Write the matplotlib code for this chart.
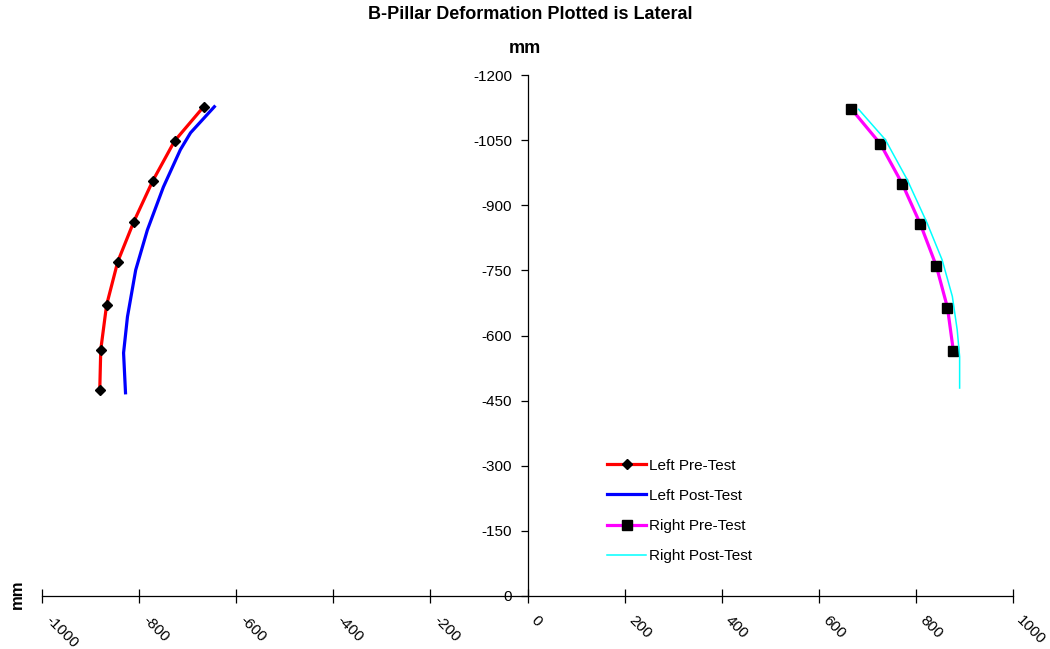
import matplotlib
matplotlib.use('Agg')
import matplotlib.pyplot as plt
import matplotlib.transforms as mtransforms

plt.rcParams['font.family'] = ['Liberation Sans', 'DejaVu Sans']
plt.rcParams['font.size'] = 11

# lateral position (mm) vs height (mm) along the B-pillar
left_pre_x = [-667, -727, -772, -811, -844, -867, -879, -881]
left_pre_y = [-1127, -1048, -956, -862, -770, -670, -567, -475]

left_post_x = [-645, -694, -715, -750, -783, -807, -824, -832, -828]
left_post_y = [-1127, -1067, -1028, -942, -843, -751, -643, -560, -468]

right_pre_x = [667, 727, 772, 809, 842, 865, 877]
right_pre_y = [-1122, -1041, -949, -857, -760, -664, -565]

right_post_x = [682, 737, 782, 823, 854, 875, 885, 890, 890]
right_post_y = [-1121, -1051, -959, -859, -774, -690, -613, -551, -479]

x_ticks = [-1000, -800, -600, -400, -200, 0, 200, 400, 600, 800, 1000]
y_ticks = [0, -150, -300, -450, -600, -750, -900, -1050, -1200]

fig = plt.figure(figsize=(10.5, 6.49), dpi=100)
ax = fig.add_axes([0.04, 0.0817, 0.9248, 0.8027])

ax.plot(left_pre_x, left_pre_y, color='#ff0000', lw=2.3, marker='D',
        ms=5.5, mfc='black', mec='black', label='Left Pre-Test')
ax.plot(left_post_x, left_post_y, color='#0000ff', lw=2.3, label='Left Post-Test')
ax.plot(right_pre_x, right_pre_y, color='#ff00ff', lw=2.3, marker='s',
        ms=6.5, mfc='black', mec='black', label='Right Pre-Test')
ax.plot(right_post_x, right_post_y, color='#00ffff', lw=1.1, label='Right Post-Test')

ax.set_xlim(-1000, 1000)
ax.set_ylim(0, -1200)

# axes cross at the origin
ax.spines['left'].set_position(('data', 0))
ax.spines['top'].set_visible(False)
ax.spines['right'].set_visible(False)
for s in ('left', 'bottom'):
    ax.spines[s].set_linewidth(0.9)

ax.set_xticks(x_ticks)
ax.set_xticklabels([str(v) for v in x_ticks], fontsize=11)
ax.tick_params(axis='x', direction='inout', length=10, width=0.9, pad=11)
shift = mtransforms.ScaledTranslation(6 / 100, 0, fig.dpi_scale_trans)
for lbl in ax.get_xticklabels():
    lbl.set_rotation(-45)
    lbl.set_rotation_mode('anchor')
    lbl.set_ha('left')
    lbl.set_va('center')
    lbl.set_transform(lbl.get_transform() + shift)

ax.set_yticks(y_ticks)
ax.set_yticklabels([str(v) for v in y_ticks], fontsize=11)
ax.tick_params(axis='y', direction='out', length=5, width=0.9, pad=6)

fig.text(0.505, 0.977, 'B-Pillar Deformation Plotted is Lateral',
         ha='center', va='center', fontsize=13, fontweight='bold')
fig.text(0.5, 0.926, 'mm', ha='center', va='center', fontsize=13, fontweight='bold')
fig.text(0.0165, 0.085, 'mm', ha='center', va='center', rotation=90,
         fontsize=12, fontweight='bold')

ax.legend(loc='upper left', bbox_to_anchor=(0.568, 0.29), frameon=False,
          handlelength=2.55, labelspacing=1.06, handletextpad=0.2, fontsize=11)

fig.savefig('out.png', dpi=100)
